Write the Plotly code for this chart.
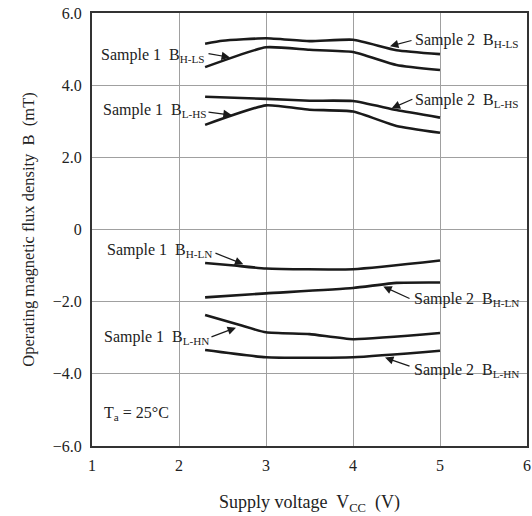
import plotly.graph_objects as go

# Supply voltage (V) sample points
vcc_hls2 = [2.3, 2.5, 3.0, 3.5, 4.0, 4.5, 5.0]
b_hls2 = [5.15, 5.23, 5.30, 5.22, 5.26, 4.97, 4.86]
vcc_hls1 = [2.3, 3.0, 3.5, 4.0, 4.5, 5.0]
b_hls1 = [4.50, 5.05, 4.98, 4.92, 4.56, 4.42]
vcc_lhs2 = [2.3, 3.0, 3.5, 4.0, 4.5, 5.0]
b_lhs2 = [3.68, 3.62, 3.57, 3.56, 3.31, 3.10]
vcc_lhs1 = [2.3, 3.0, 3.5, 4.0, 4.5, 5.0]
b_lhs1 = [2.90, 3.44, 3.32, 3.27, 2.87, 2.68]
vcc_hln1 = [2.3, 2.6, 3.0, 4.0, 5.0]
b_hln1 = [-0.93, -0.99, -1.08, -1.10, -0.86]
vcc_hln2 = [2.3, 3.0, 4.0, 4.5, 5.0]
b_hln2 = [-1.88, -1.77, -1.62, -1.48, -1.47]
vcc_lhn1 = [2.3, 2.7, 3.0, 3.5, 4.0, 5.0]
b_lhn1 = [-2.37, -2.65, -2.85, -2.90, -3.04, -2.87]
vcc_lhn2 = [2.3, 3.0, 4.0, 5.0]
b_lhn2 = [-3.34, -3.54, -3.54, -3.36]

y_ticks = [-6, -4, -2, 0, 2, 4, 6]
y_tick_labels = ["\u22126.0", "\u22124.0", "\u22122.0", "0", "2.0", "4.0", "6.0"]
x_ticks = [1, 2, 3, 4, 5, 6]

FONT = "Liberation Serif"
INK = "#222222"

fig = go.Figure()
for xs, ys in [(vcc_hls2, b_hls2), (vcc_hls1, b_hls1), (vcc_lhs2, b_lhs2),
               (vcc_lhs1, b_lhs1), (vcc_hln1, b_hln1), (vcc_hln2, b_hln2),
               (vcc_lhn1, b_lhn1), (vcc_lhn2, b_lhn2)]:
    fig.add_trace(go.Scatter(x=xs, y=ys, mode="lines",
                             line=dict(color="#1a1a1a", width=2.6, shape="spline", smoothing=0.5),
                             showlegend=False, hoverinfo="skip"))

# label text (x, y, text)
labels = [
    (1.08, 4.83, "Sample 1  B<sub>H-LS</sub>"),
    (1.10, 3.31, "Sample 1  B<sub>L-HS</sub>"),
    (4.69, 5.23, "Sample 2  B<sub>H-LS</sub>"),
    (4.69, 3.57, "Sample 2  B<sub>L-HS</sub>"),
    (1.145, -0.57, "Sample 1  B<sub>H-LN</sub>"),
    (1.12, -2.99, "Sample 1  B<sub>L-HN</sub>"),
    (4.68, -1.95, "Sample 2  B<sub>H-LN</sub>"),
    (4.68, -3.91, "Sample 2  B<sub>L-HN</sub>"),
    (1.12, -5.10, "T<sub>a</sub> = 25\u00b0C"),
]
for x, y, t in labels:
    fig.add_annotation(x=x, y=y, text=t, showarrow=False, xanchor="left", yanchor="middle",
                       font=dict(family=FONT, size=16, color=INK))

# arrows (tail x, tail y, head x, head y)
arrows = [
    (2.322, 4.88, 2.586, 4.77),
    (2.322, 3.26, 2.606, 3.17),
    (4.69, 5.25, 4.425, 5.08),
    (4.70, 3.63, 4.445, 3.36),
    (2.402, -0.64, 2.739, -0.96),
    (2.356, -2.99, 2.655, -2.72),
    (4.667, -1.93, 4.348, -1.58),
    (4.667, -3.80, 4.368, -3.55),
]
for tx, ty, hx, hy in arrows:
    fig.add_annotation(x=hx, y=hy, ax=tx, ay=ty, axref="x", ayref="y", text="",
                       showarrow=True, arrowhead=2, arrowsize=1.4, arrowwidth=1.2,
                       arrowcolor="#1a1a1a")

axis_common = dict(showgrid=True, gridcolor="#a0a0a0", gridwidth=1, zeroline=False,
                   showline=True, linecolor="#333333", linewidth=2, mirror=True,
                   ticks="", automargin=False, ticklabeloverflow="allow",
                   tickfont=dict(family=FONT, size=16, color=INK))

fig.update_xaxes(range=[1, 6], tickvals=x_ticks, ticklabelstandoff=4, **axis_common,
                 title=dict(text="Supply voltage  V<sub>CC</sub>  (V)",
                            font=dict(family=FONT, size=18, color=INK), standoff=22))
fig.update_yaxes(range=[-6, 6], tickvals=y_ticks, ticktext=y_tick_labels,
                 ticklabelstandoff=5, **axis_common,
                 title=dict(text="Operating magnetic flux density  B  (mT)",
                            font=dict(family=FONT, size=16.5, color=INK), standoff=14))

fig.update_layout(width=532, height=516, margin=dict(l=92, r=5, t=13, b=70),
                  plot_bgcolor="white", paper_bgcolor="white")

# drop the default page margin so the figure sits at the window's corner
fig.write_html("out.html", config={"displayModeBar": False},
               post_script="document.body.style.margin='0';document.body.style.overflow='hidden';")
